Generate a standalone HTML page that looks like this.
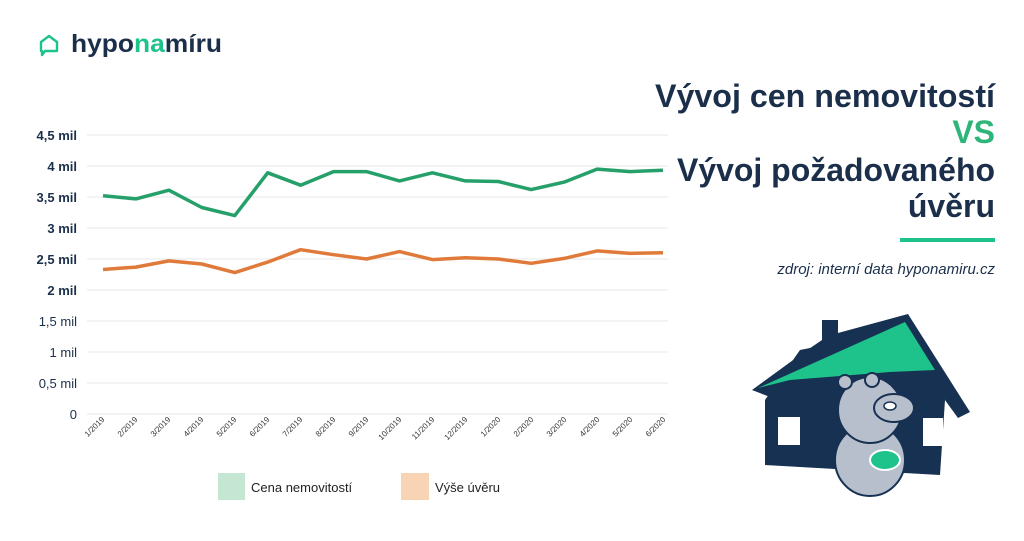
<!DOCTYPE html>
<html><head><meta charset="utf-8"><style>
body{margin:0;width:1024px;height:536px;background:#fff;overflow:hidden;font-family:"Liberation Sans",sans-serif}
</style></head><body>
<svg width="1024" height="536" viewBox="0 0 1024 536" xmlns="http://www.w3.org/2000/svg" font-family="Liberation Sans, sans-serif">
<g fill="none" stroke="#1ec28b" stroke-width="2.4" stroke-linejoin="round">
<path d="M41 42 L49 36 L57 42 L57 51 L45 51 L42 55 L42 51 L41 51 Z"/>
</g>
<text x="71" y="52" font-size="25" font-weight="bold" fill="#1b2f4b" textLength="151" lengthAdjust="spacingAndGlyphs">hypo<tspan fill="#1ec28b">na</tspan>míru</text>
<g stroke="#ececec" stroke-width="1.2">
<line x1="87" x2="668" y1="135" y2="135"/><line x1="87" x2="668" y1="166" y2="166"/>
<line x1="87" x2="668" y1="197" y2="197"/><line x1="87" x2="668" y1="228" y2="228"/>
<line x1="87" x2="668" y1="259" y2="259"/><line x1="87" x2="668" y1="290" y2="290"/>
<line x1="87" x2="668" y1="321" y2="321"/><line x1="87" x2="668" y1="352" y2="352"/>
<line x1="87" x2="668" y1="383" y2="383"/><line x1="87" x2="668" y1="414" y2="414"/>
</g>
<g font-size="13" fill="#1b2f4b" text-anchor="end">
<text x="77" y="140" font-weight="bold">4,5 mil</text><text x="77" y="171" font-weight="bold">4 mil</text>
<text x="77" y="202" font-weight="bold">3,5 mil</text><text x="77" y="233" font-weight="bold">3 mil</text>
<text x="77" y="264" font-weight="bold">2,5 mil</text><text x="77" y="295" font-weight="bold">2 mil</text>
<text x="77" y="326">1,5 mil</text><text x="77" y="357">1 mil</text>
<text x="77" y="388">0,5 mil</text><text x="77" y="419">0</text>
</g>
<polyline fill="none" stroke="#26a06a" stroke-width="3.5" stroke-linejoin="round" points="103,195.8 135.9,198.9 168.9,190.2 201.8,207.5 234.8,215.6 267.7,172.8 300.6,185.2 333.6,171.6 366.5,171.6 399.5,180.9 432.4,172.8 465.4,180.9 498.3,181.5 531.2,189.6 564.2,182.1 597.1,169.1 630.1,171.6 663,170.3"/>
<polyline fill="none" stroke="#e07a3a" stroke-width="3.5" stroke-linejoin="round" points="103,269.5 135.9,267.1 168.9,260.9 201.8,264 234.8,272.6 267.7,262.1 300.6,249.7 333.6,254.7 366.5,259 399.5,251.6 432.4,259.6 465.4,257.8 498.3,259 531.2,263.3 564.2,258.4 597.1,250.9 630.1,253.4 663,252.8"/>
<g font-size="8" fill="#333" text-anchor="end">
<text transform="translate(105,420) rotate(-45)">1/2019</text>
<text transform="translate(138,420) rotate(-45)">2/2019</text>
<text transform="translate(171,420) rotate(-45)">3/2019</text>
<text transform="translate(204,420) rotate(-45)">4/2019</text>
<text transform="translate(237,420) rotate(-45)">5/2019</text>
<text transform="translate(270,420) rotate(-45)">6/2019</text>
<text transform="translate(303,420) rotate(-45)">7/2019</text>
<text transform="translate(336,420) rotate(-45)">8/2019</text>
<text transform="translate(369,420) rotate(-45)">9/2019</text>
<text transform="translate(402,420) rotate(-45)">10/2019</text>
<text transform="translate(435,420) rotate(-45)">11/2019</text>
<text transform="translate(468,420) rotate(-45)">12/2019</text>
<text transform="translate(501,420) rotate(-45)">1/2020</text>
<text transform="translate(534,420) rotate(-45)">2/2020</text>
<text transform="translate(567,420) rotate(-45)">3/2020</text>
<text transform="translate(600,420) rotate(-45)">4/2020</text>
<text transform="translate(633,420) rotate(-45)">5/2020</text>
<text transform="translate(666,420) rotate(-45)">6/2020</text>
</g>
<rect x="218" y="473" width="27" height="27" fill="#c6e6d4"/>
<text x="251" y="492" font-size="13" fill="#222">Cena nemovitostí</text>
<rect x="401" y="473" width="28" height="27" fill="#f8d3b4"/>
<text x="435" y="492" font-size="13" fill="#222">Výše úvěru</text>
<g font-size="32" font-weight="bold" fill="#1b2f4b" text-anchor="end">
<text x="995" y="107" textLength="340" lengthAdjust="spacingAndGlyphs">Vývoj cen nemovitostí</text>
<text x="995" y="143" fill="#2fb47a">VS</text>
<text x="995" y="181" textLength="318" lengthAdjust="spacingAndGlyphs">Vývoj požadovaného</text>
<text x="995" y="217">úvěru</text>
</g>
<rect x="900" y="238" width="95" height="4" fill="#1ec28b"/>
<text x="995" y="274" font-size="15" font-style="italic" fill="#1b2f4b" text-anchor="end">zdroj: interní data hyponamiru.cz</text>
<polygon points="765,400 765,465 940,475 945,400 900,330 800,350" fill="#163152"/>
<polygon points="752,390 800,355 822,340 822,320 838,320 838,333 908,314 970,412 958,418 905,345 770,397" fill="#163152"/>
<polygon points="758,388 905,322 935,370 890,372 790,380" fill="#1ec28b"/>
<rect x="778" y="417" width="22" height="28" fill="#fff"/>
<rect x="923" y="418" width="20" height="28" fill="#fff"/>
<g stroke="#163152" stroke-width="2" fill="#b7bfcc">
<ellipse cx="870" cy="460" rx="35" ry="36"/>
<ellipse cx="870" cy="410" rx="32" ry="33"/>
<ellipse cx="894" cy="408" rx="20" ry="14"/>
<circle cx="845" cy="382" r="7"/><circle cx="872" cy="380" r="7"/>
</g>
<ellipse cx="890" cy="406" rx="6" ry="4" fill="#fff" stroke="#163152" stroke-width="1.5"/>
<ellipse cx="885" cy="460" rx="15" ry="10" fill="#1ec28b" stroke="#fff" stroke-width="2"/>
</svg>
</body></html>
